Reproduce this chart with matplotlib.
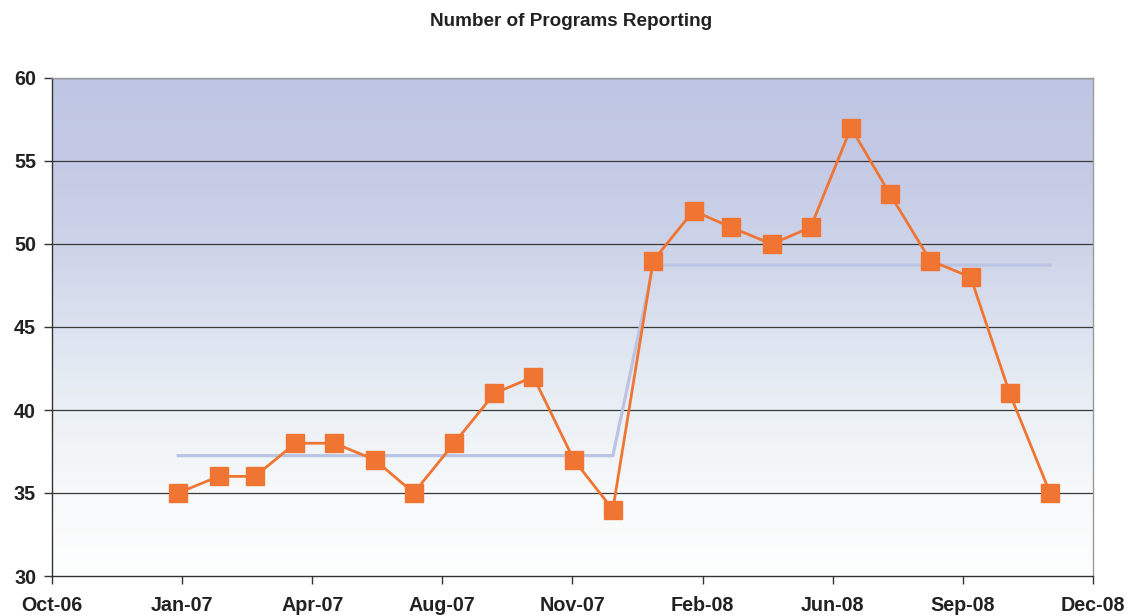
import matplotlib
matplotlib.use("Agg")
import matplotlib.pyplot as plt
import matplotlib.dates as mdates
import numpy as np
import datetime as dt

# ---- data ----
months = ["2007-01", "2007-02", "2007-03", "2007-04", "2007-05", "2007-06",
          "2007-07", "2007-08", "2007-09", "2007-10", "2007-11", "2007-12",
          "2008-01", "2008-02", "2008-03", "2008-04", "2008-05", "2008-06",
          "2008-07", "2008-08", "2008-09", "2008-10", "2008-11"]
programs = [35, 36, 36, 38, 38, 37, 35, 38, 41, 42, 37, 34,
            49, 52, 51, 50, 51, 57, 53, 49, 48, 41, 35]
period_average = [37.25] * 12 + [48.73] * 11
tick_labels = ["Oct-06", "Jan-07", "Apr-07", "Aug-07", "Nov-07",
               "Feb-08", "Jun-08", "Sep-08", "Dec-08"]
title = "Number of Programs Reporting"

plt.rcParams['font.family'] = ['Liberation Sans', 'DejaVu Sans']

dates = [dt.datetime.strptime(m + "-01", "%Y-%m-%d") for m in months]
x = mdates.date2num(dates)

fig = plt.figure(figsize=(11.28, 6.16), dpi=100)
ax = fig.add_axes([52 / 1128, 40 / 616, (1093 - 52) / 1128, (576 - 78) / 616])

# axis range: ticks every 100 days
axis_start = mdates.date2num(dt.datetime(2008, 12, 4)) - 800
ticks = [axis_start + 100 * k for k in range(len(tick_labels))]
ax.set_xlim(ticks[0], ticks[-1])
ax.set_ylim(30, 60)

# gradient background (bottom -> top)
stop_pos = [0.0, 1 / 6, 2 / 6, 3 / 6, 4 / 6, 5 / 6, 1.0]
stop_col = np.array([[0xfd, 0xfe, 0xfe], [0xf7, 0xf9, 0xfa], [0xeb, 0xf0, 0xf5],
                     [0xdc, 0xe2, 0xef], [0xcd, 0xd3, 0xe8], [0xc4, 0xca, 0xe5],
                     [0xbf, 0xc6, 0xe3]]) / 255.0
g = np.linspace(0, 1, 512)
img = np.stack([np.interp(g, stop_pos, stop_col[:, c]) for c in range(3)], axis=-1)
img = img[:, None, :]
ax.imshow(img, extent=[ticks[0], ticks[-1], 30, 60], origin='lower',
          aspect='auto', zorder=0, interpolation='bilinear')

ax.set_yticks(range(30, 61, 5))
for yv in range(35, 61, 5):
    ax.axhline(yv, color='#3a3a3a', lw=0.9, zorder=1)

ax.plot(x, period_average, color='#bcc4e4', lw=2.3, zorder=2)
ax.plot(x, programs, color='#f07532', lw=2.0, marker='s', markersize=13.2,
        markerfacecolor='#f07532', markeredgecolor='#f07532', zorder=3)

ax.set_xticks(ticks)
ax.set_xticklabels(tick_labels)

for s in ['left', 'bottom']:
    ax.spines[s].set_color('#333333')
    ax.spines[s].set_linewidth(1.0)
for s in ['top', 'right']:
    ax.spines[s].set_color('#9a9a9a')
    ax.spines[s].set_linewidth(1.0)

ax.tick_params(axis='both', direction='out', length=5.5, width=1, color='#333333',
               labelsize=14.2, colors='#222222')
ax.tick_params(axis='x', pad=9)
ax.tick_params(axis='y', pad=6)
for lab in ax.get_xticklabels() + ax.get_yticklabels():
    lab.set_fontweight('bold')

fig.text(571 / 1128, 1 - 21 / 616, title, ha='center', va='center',
         fontsize=13.6, fontweight='bold', color='#222222')

fig.savefig("out.png", dpi=100)
